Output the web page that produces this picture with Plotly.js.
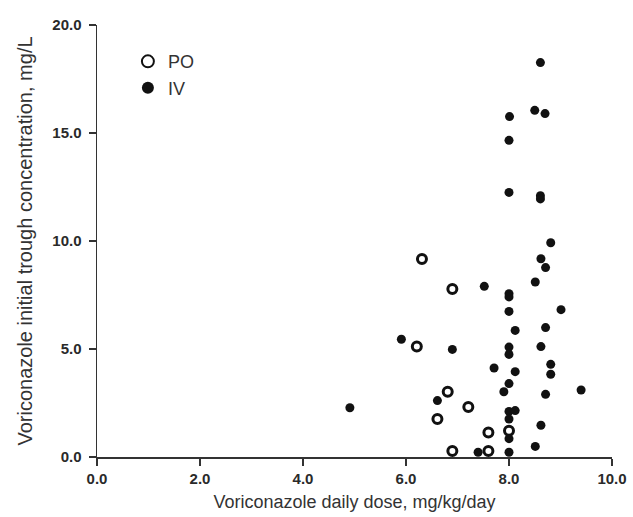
<!DOCTYPE html>
<html>
<head>
<meta charset="utf-8">
<script src="https://cdn.plot.ly/plotly-3.0.1.min.js"></script>
<style>html,body{margin:0;padding:0;background:#fff;}#chart{width:633px;height:517px;}</style>
</head>
<body>
<div id="chart"></div>
<script>
// PO (oral) doses and troughs
const poDose = [6.31, 6.90, 6.21, 6.81, 7.21, 6.61, 7.60, 8.00, 6.90, 7.60];
const poTrough = [9.17, 7.78, 5.12, 3.02, 2.31, 1.76, 1.13, 1.22, 0.28, 0.28];

// IV doses and troughs
const ivDose = [8.61, 8.50, 8.70, 8.01, 8.00, 8.00, 8.61, 8.61,
  8.81, 8.62, 8.71, 8.51, 7.52, 8.00, 8.00, 8.00, 9.01, 8.12, 8.71,
  5.91, 6.90, 8.00, 8.00, 8.62, 8.81, 8.81, 7.71, 8.12, 8.00, 7.90,
  8.71, 9.40, 4.91, 6.61, 8.00, 8.12, 8.00, 8.62, 8.00, 8.51, 7.40, 8.00];
const ivTrough = [18.26, 16.05, 15.90, 15.76, 14.66, 12.25, 12.10, 11.95,
  9.92, 9.18, 8.77, 8.10, 7.90, 7.56, 7.41, 6.74, 6.82, 5.86, 5.99,
  5.45, 4.98, 5.09, 4.75, 5.11, 4.29, 3.83, 4.12, 3.95, 3.40, 3.02,
  2.90, 3.10, 2.28, 2.61, 2.11, 2.15, 1.76, 1.47, 0.85, 0.49, 0.22, 0.22];

const xTitle = "Voriconazole daily dose, mg/kg/day";
const yTitle = "Voriconazole initial trough concentration, mg/L";

const traces = [
  {x: poDose, y: poTrough, name: "PO", type: "scatter", mode: "markers",
   cliponaxis: false,
   marker: {symbol: "circle-open", size: 9, color: "#111", line: {width: 3, color: "#111"}}},
  {x: ivDose, y: ivTrough, name: "IV", type: "scatter", mode: "markers",
   cliponaxis: false,
   marker: {symbol: "circle", size: 9, color: "#111", line: {width: 0}}}
];

const FONT = "Liberation Sans, Arial, sans-serif";
const axisCommon = {
  showgrid: false, zeroline: false, showline: true, linecolor: "#333", linewidth: 1.5,
  ticks: "outside", ticklen: 7, tickwidth: 1.5, tickcolor: "#333",
  tickformat: ".1f",
  tickfont: {family: FONT, size: 15, color: "#2a2a2a", weight: "bold"}
};

const layout = {
  width: 633, height: 517,
  margin: {l: 97, r: 21, t: 25, b: 60},
  paper_bgcolor: "#fff", plot_bgcolor: "#fff",
  showlegend: true,
  legend: {x: 0.06, y: 0.958, xanchor: "left", yanchor: "top", bgcolor: "rgba(0,0,0,0)",
           font: {family: FONT, size: 18, color: "#333"},
           itemsizing: "constant", tracegroupgap: 0},
  xaxis: Object.assign({}, axisCommon, {range: [0, 10], dtick: 2, tick0: 0,
    ticklabelstandoff: 0,
    title: {text: xTitle, standoff: 10,
      font: {family: FONT, size: 18, color: "#333"}}}),
  yaxis: Object.assign({}, axisCommon, {range: [0, 20], dtick: 5, tick0: 0,
    ticklabelstandoff: 4,
    title: {text: yTitle, standoff: 14,
      font: {family: FONT, size: 20, color: "#333"}}})
};

Plotly.newPlot("chart", traces, layout, {displayModeBar: false, staticPlot: true});
</script>
</body>
</html>
